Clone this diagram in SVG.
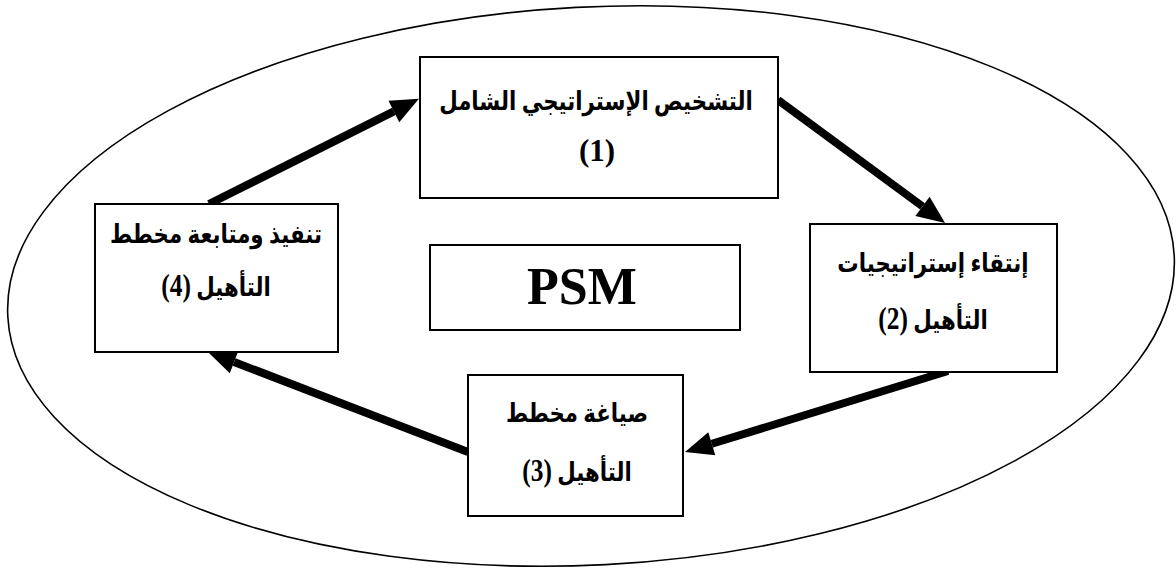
<svg xmlns="http://www.w3.org/2000/svg" width="1176" height="569" viewBox="0 0 1176 569">
  <style>
    .box { fill: #ffffff; stroke: #000000; stroke-width: 2; }
    .lbl { font-family: "Liberation Serif", "DejaVu Sans", serif; font-weight: bold; font-size: 26px; fill: #000000; text-anchor: middle; direction: rtl; unicode-bidi: embed; }
    .num { font-family: "Liberation Serif", serif; font-size: 31px; }
    .psm { font-family: "Liberation Serif", serif; font-weight: bold; font-size: 52px; fill: #000000; text-anchor: middle; }
    .arrow { stroke: #000000; stroke-width: 8; fill: none; marker-end: url(#head); }
  </style>
  <defs>
    <marker id="head" markerUnits="userSpaceOnUse" markerWidth="30" markerHeight="26" refX="0" refY="12" orient="auto" overflow="visible">
      <path d="M0,0 L28,12 L0,24 z" fill="#000000"/>
    </marker>
  </defs>

  <rect width="1176" height="569" fill="#ffffff"/>

  <!-- outer boundary -->
  <ellipse cx="591" cy="286" rx="584" ry="279" fill="none" stroke="#000000" stroke-width="1.6" transform="rotate(-3 591 286)"/>

  <!-- cycle connectors -->
  <g id="connectors">
    <line class="arrow" x1="209" y1="204" x2="393.9" y2="111.4"/>
    <line class="arrow" x1="778" y1="100" x2="922.5" y2="206.4"/>
    <line class="arrow" x1="948" y1="371" x2="711.8" y2="443.8"/>
    <line class="arrow" x1="468" y1="452" x2="234.1" y2="362"/>
  </g>

  <g id="step1">
    <rect class="box" x="420" y="57" width="358" height="141"/>
    <text class="lbl" transform="translate(596 110) scale(0.82 1)">التشخيص الإستراتيجي الشامل</text>
    <text class="lbl num" x="597" y="161">(1)</text>
  </g>

  <g id="step2">
    <rect class="box" x="810" y="224" width="247" height="148"/>
    <text class="lbl" transform="translate(933 272) scale(0.82 1)">إنتقاء إستراتيجيات</text>
    <text class="lbl" transform="translate(933 329) scale(0.82 1)">التأهيل <tspan class="num">(2)</tspan></text>
  </g>

  <g id="step3">
    <rect class="box" x="468" y="375" width="215" height="141"/>
    <text class="lbl" transform="translate(577 422) scale(0.82 1)">صياغة مخطط</text>
    <text class="lbl" transform="translate(577 481) scale(0.82 1)">التأهيل <tspan class="num">(3)</tspan></text>
  </g>

  <g id="step4">
    <rect class="box" x="95" y="204" width="243" height="148"/>
    <text class="lbl" transform="translate(216 243) scale(0.82 1)">تنفيذ ومتابعة مخطط</text>
    <text class="lbl" transform="translate(216 296) scale(0.82 1)">التأهيل <tspan class="num">(4)</tspan></text>
  </g>

  <g id="center">
    <rect class="box" x="430" y="245" width="310" height="85"/>
    <text class="psm" x="582" y="304">PSM</text>
  </g>
</svg>
